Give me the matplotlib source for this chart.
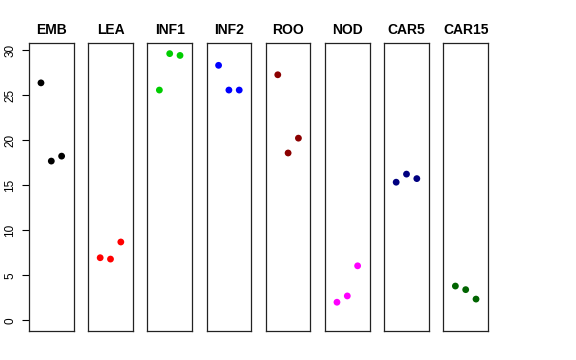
import matplotlib
matplotlib.use("Agg")
import matplotlib.pyplot as plt

plt.rcParams['font.family'] = ['Liberation Sans', 'DejaVu Sans']

groups = ["EMB", "LEA", "INF1", "INF2", "ROO", "NOD", "CAR5", "CAR15"]
colors = ["#000000", "#FF0000", "#00CD00", "#0000FF", "#8B0000", "#FF00FF", "#000080", "#006400"]
values = {
    "EMB":   [26.4, 17.7, 18.25],
    "LEA":   [6.95, 6.8, 8.7],
    "INF1":  [25.6, 29.65, 29.45],
    "INF2":  [28.35, 25.6, 25.6],
    "ROO":   [27.3, 18.6, 20.25],
    "NOD":   [2.0, 2.7, 6.05],
    "CAR5":  [15.35, 16.25, 15.75],
    "CAR15": [3.8, 3.4, 2.35],
}
xpos = [1, 2, 3]
yticks = [0, 5, 10, 15, 20, 25, 30]

W, H = 576, 360
fig = plt.figure(figsize=(W / 100, H / 100), dpi=100)

left0 = 29.0
pw = 44.6
step = 59.2
top = 43.3
bottom = 331.0

for i, (g, c) in enumerate(zip(groups, colors)):
    x0 = left0 + i * step
    ax = fig.add_axes([x0 / W, 1 - bottom / H, pw / W, (bottom - top) / H])
    ax.scatter(xpos, values[g], color=c, s=24, edgecolors='none', zorder=3)
    ax.set_xlim(-0.16, 4.16)
    ax.set_ylim(-1.2, 30.8)
    ax.set_xticks([])
    for sp in ax.spines.values():
        sp.set_linewidth(0.9)
        sp.set_color("#222222")
    ax.set_title(g, fontsize=10, fontweight='bold', pad=7)
    if i == 0:
        ax.set_yticks(yticks)
        ax.set_yticklabels([str(t) for t in yticks], rotation=90, va='center', fontsize=8.5)
        ax.tick_params(axis='y', length=5, width=0.8, pad=4)
    else:
        ax.set_yticks([])

fig.savefig("out.png", dpi=100)
